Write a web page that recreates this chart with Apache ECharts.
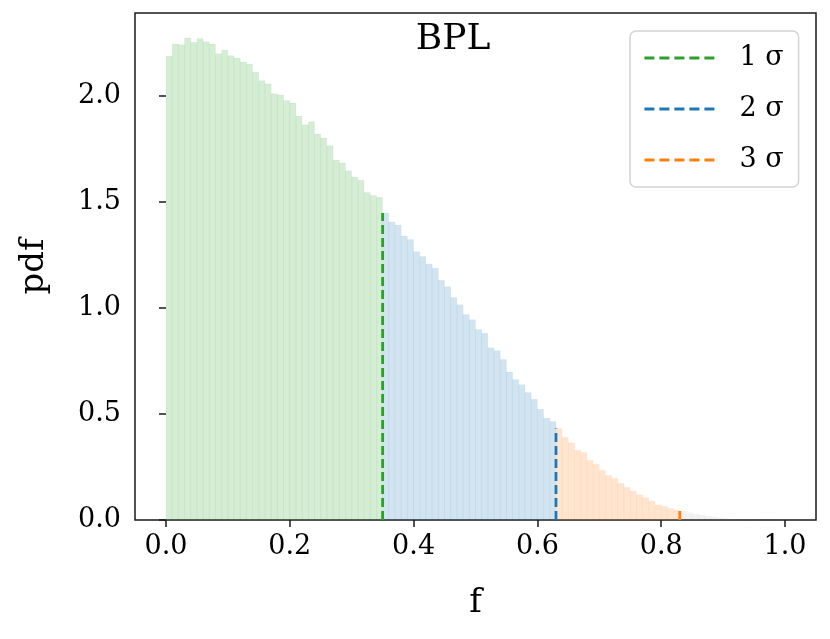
<!DOCTYPE html>
<html>
<head>
<meta charset="utf-8">
<script src="https://cdn.jsdelivr.net/npm/echarts@6/dist/echarts.min.js"></script>
<style>
  html, body { margin: 0; padding: 0; background: #fff; }
  #chart { width: 830px; height: 639px; }
</style>
</head>
<body>
<div id="chart"></div>
<script>
// histogram of f, bins of width 0.01 starting at 0
const binWidth = 0.01;
const pdfValues = [
  2.187, 2.244, 2.240, 2.272, 2.252, 2.270, 2.255, 2.244, 2.198, 2.215,
  2.189, 2.178, 2.159, 2.150, 2.111, 2.071, 2.056, 2.009, 2.004, 1.977,
  1.966, 1.904, 1.863, 1.877, 1.820, 1.801, 1.764, 1.697, 1.683, 1.646,
  1.617, 1.601, 1.544, 1.530, 1.521, 1.447, 1.405, 1.391, 1.339, 1.322,
  1.265, 1.242, 1.207, 1.187, 1.130, 1.099, 1.049, 1.015, 0.969, 0.944,
  0.898, 0.880, 0.812, 0.798, 0.757, 0.698, 0.662, 0.638, 0.601, 0.569,
  0.522, 0.480, 0.464, 0.431, 0.390, 0.364, 0.329, 0.318, 0.281, 0.263,
  0.234, 0.210, 0.196, 0.173, 0.154, 0.136, 0.119, 0.105, 0.089, 0.071,
  0.064, 0.055, 0.046, 0.040, 0.034, 0.028, 0.023, 0.018, 0.013, 0.009,
  0.006, 0.004, 0.002, 0.001, 0.001, 0, 0, 0, 0, 0
];
// sigma boundaries and the height of the dashed markers
const sigmaNames = ['1 σ', '2 σ', '3 σ'];
const sigmaX = [0.35, 0.63, 0.83];
const sigmaTop = [1.447, 0.431, 0.045];
const xTicks = [0, 0.2, 0.4, 0.6, 0.8, 1.0];
const yTicks = [0, 0.5, 1.0, 1.5, 2.0];

const lineColors = ['#2ca02c', '#1f77b4', '#ff7f0e'];
const fillColors = ['rgba(44,160,44,0.2)', 'rgba(31,119,180,0.2)', 'rgba(255,127,14,0.2)', 'rgba(127,127,127,0.1)'];
const FONT = 'DejaVu Serif';

// split bins into the regions between sigma limits
const regions = [[], [], [], []];
pdfValues.forEach((v, i) => {
  const x0 = +(i * binWidth).toFixed(2);
  let r = 0;
  while (r < sigmaX.length && x0 >= sigmaX[r] - 1e-9) r++;
  regions[r].push([x0, v]);
});

function histItem(fill) {
  return function (params, api) {
    const x0 = api.value(0);
    const h = api.value(1);
    const p0 = api.coord([x0, h]);
    const p1 = api.coord([x0 + binWidth, 0]);
    return {
      type: 'rect',
      shape: { x: p0[0], y: p0[1], width: p1[0] - p0[0], height: p1[1] - p0[1] },
      style: { fill: fill, stroke: fill, lineWidth: 0.25 }
    };
  };
}

const series = regions.map((data, r) => ({
  type: 'custom',
  renderItem: histItem(fillColors[r]),
  encode: { x: 0, y: 1 },
  data: data,
  silent: true,
  z: 1
}));

sigmaNames.forEach((name, k) => {
  series.push({
    name: name,
    type: 'line',
    symbol: 'none',
    data: [[sigmaX[k], 0], [sigmaX[k], sigmaTop[k]]],
    lineStyle: { color: lineColors[k], width: 2.8, type: [9, 4] },
    itemStyle: { color: lineColors[k] },
    z: 3
  });
});

const chart = echarts.init(document.getElementById('chart'));
chart.setOption({
  animation: false,
  grid: {
    left: 135, right: 14, top: 13, bottom: 119,
    show: true, borderColor: '#1a1a1a', borderWidth: 1.5, backgroundColor: 'transparent'
  },
  graphic: [{
    type: 'text', x: 453, y: 40, z: 10,
    style: { text: 'BPL', font: '36px "' + FONT + '"', fill: '#000', textAlign: 'center', textVerticalAlign: 'middle' }
  }],
  legend: {
    orient: 'vertical',
    left: 630, top: 31,
    padding: [13, 15, 13, 13],
    itemWidth: 70, itemHeight: 14, itemGap: 23,
    backgroundColor: '#fff',
    borderColor: '#d4d4d4', borderWidth: 1.5, borderRadius: 6,
    itemStyle: { opacity: 0 },
    lineStyle: { width: 2.8, type: [10, 5] },
    textStyle: { fontFamily: FONT, fontSize: 27, color: '#000', lineHeight: 28, padding: [0, 0, 0, 20] },
    data: sigmaNames
  },
  xAxis: {
    type: 'value', min: -0.05, max: 1.05,
    name: 'f', nameLocation: 'middle', nameGap: 66,
    nameTextStyle: { fontFamily: FONT, fontSize: 34, color: '#000' },
    axisLine: { show: false },
    axisTick: { show: true, length: 7, lineStyle: { color: '#1a1a1a', width: 1.5 }, customValues: xTicks },
    axisLabel: {
      fontFamily: FONT, fontSize: 27, color: '#000', margin: 13,
      customValues: xTicks, formatter: v => v.toFixed(1)
    },
    splitLine: { show: false }
  },
  yAxis: {
    type: 'value', min: 0, max: 2.39,
    name: 'pdf', nameLocation: 'middle', nameGap: 84,
    nameTextStyle: { fontFamily: FONT, fontSize: 34, color: '#000' },
    axisLine: { show: false },
    axisTick: { show: true, length: 7, lineStyle: { color: '#1a1a1a', width: 1.5 }, customValues: yTicks },
    axisLabel: {
      fontFamily: FONT, fontSize: 27, color: '#000', margin: 14,
      customValues: yTicks, formatter: v => v.toFixed(1)
    },
    splitLine: { show: false }
  },
  series: series
});
</script>
</body>
</html>
